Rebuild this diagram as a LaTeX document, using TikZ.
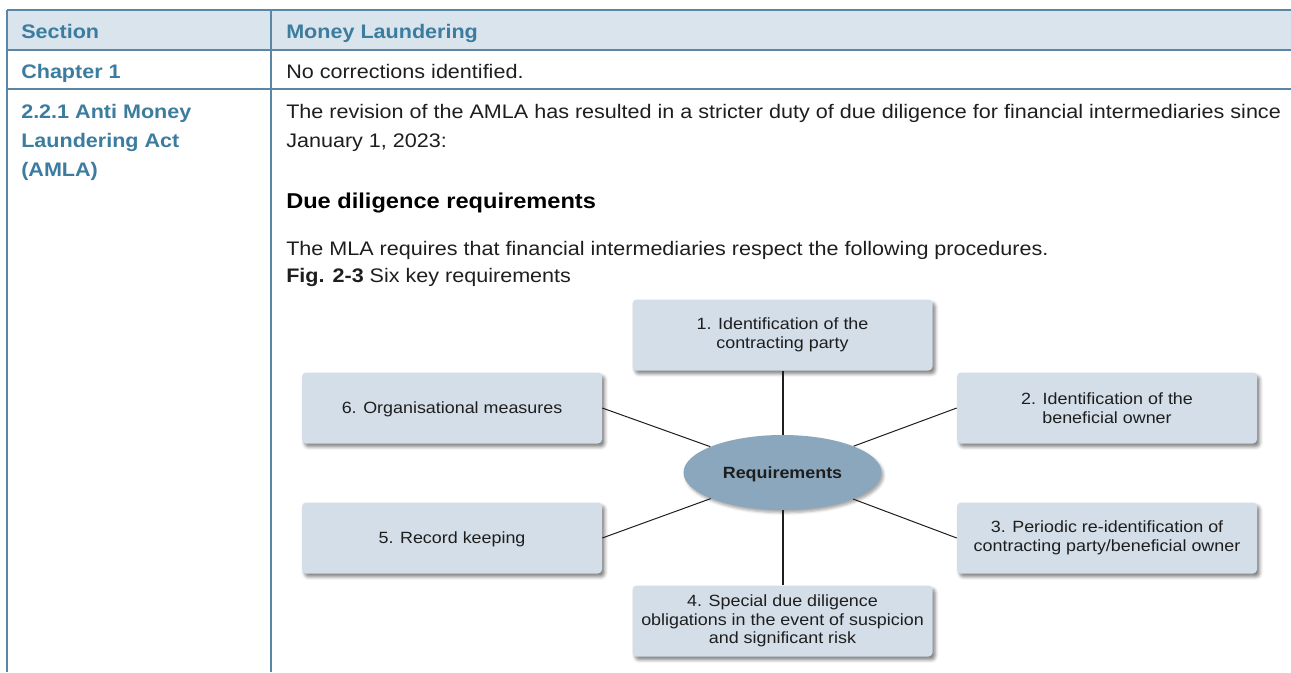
\documentclass[tikz,border=0pt]{standalone}
\usepackage{fontspec}
\setmainfont{Liberation Sans}[FakeStretch=1.1]
\usetikzlibrary{shapes.geometric,shadows.blur}

\definecolor{rulecol}{HTML}{5A87A6}
\definecolor{headfill}{HTML}{DAE4EC}
\definecolor{sectxt}{HTML}{3C7C9F}
\definecolor{boxfill}{HTML}{D4DEE8}
\definecolor{hubfill}{HTML}{8AA7BE}
\definecolor{ink}{HTML}{1E1E1E}

\tikzset{
  tablerule/.style={draw=rulecol, line width=1.1pt},
  cell/.style={anchor=base west, inner sep=0pt, text=ink,
    font=\fontsize{14.7}{17}\selectfont},
  sectioncell/.style={cell, text=sectxt,
    font=\fontsize{14.7}{17}\selectfont\bfseries},
  subhead/.style={cell, text=black,
    font=\fontsize{16.1}{19}\selectfont\bfseries},
  reqbox/.style={rectangle, rounded corners=3pt, fill=boxfill,
    minimum width=225pt, minimum height=53.25pt, inner sep=2pt,
    align=center, text=ink, font=\fontsize{12.2}{14}\selectfont,
    blur shadow={shadow xshift=2pt, shadow yshift=-2.5pt,
      shadow blur radius=2.5pt, shadow opacity=50}},
  oneline/.style={text depth=0pt},
  hub/.style={ellipse, fill=hubfill, minimum width=148.5pt,
    minimum height=56.25pt, inner sep=0pt, text=ink, text depth=0pt,
    font=\fontsize{12.2}{14}\selectfont\bfseries,
    blur shadow={shadow xshift=1.5pt, shadow yshift=-2pt,
      shadow blur radius=2pt, shadow opacity=35}},
  spoke/.style={draw=ink, line width=1.5pt},
  diagspoke/.style={draw=ink, line width=0.75pt},
}

\begin{document}
\begin{tikzpicture}[x=0.75pt, y=-0.75pt]
  \useasboundingbox (0,0) rectangle (1291,672);

  % table frame
  \fill[headfill] (7,10) rectangle (1291,50);
  \draw[tablerule] (7,10) -- (1291,10);
  \draw[tablerule] (7,50) -- (1291,50);
  \draw[tablerule] (7,89) -- (1291,89);
  \draw[tablerule] (7,10) -- (7,672);
  \draw[tablerule] (271,10) -- (271,672);

  % header row
  \node[sectioncell] (hsec) at (21,38) {Section};
  \node[sectioncell] (htopic) at (286,38) {Money Laundering};

  % first row
  \node[sectioncell] (ch1) at (21,78) {Chapter 1};
  \node[cell] (ch1txt) at (286,78) {No corrections identified.};

  % second row, left column
  \node[sectioncell] (amla1) at (21,118) {2.2.1 Anti Money};
  \node[sectioncell] (amla2) at (21,147) {Laundering Act};
  \node[sectioncell] (amla3) at (21,176) {(AMLA)};

  % second row, right column
  \node[cell] (rev1) at (286,118) {The revision of the AMLA has resulted in a stricter duty of due diligence for financial intermediaries since};
  \node[cell] (rev2) at (286,147) {January 1, 2023:};
  \node[subhead] (ddr) at (286,208) {Due diligence requirements};
  \node[cell] (mla) at (286,255) {The MLA requires that financial intermediaries respect the following procedures.};
  \node[cell] (fig) at (286,282) {\textbf{Fig. 2-3} Six key requirements};

  % diagram
  \node[hub] (req) at (782.5,472.5) {Requirements};
  \node[reqbox] (r1) at (782.5,335) {1. Identification of the\\contracting party};
  \node[reqbox] (r2) at (1107,408) {2. Identification of the\\beneficial owner};
  \node[reqbox] (r3) at (1107,538) {3. Periodic re-identification of\\contracting party/beneficial owner};
  \node[reqbox] (r4) at (782.5,621) {4. Special due diligence\\obligations in the event of suspicion\\and significant risk};
  \node[reqbox, oneline] (r5) at (452,538) {5. Record keeping};
  \node[reqbox, oneline] (r6) at (452,408) {6. Organisational measures};

  \draw[spoke] (r1) -- (req);
  \draw[spoke] (r4) -- (req);
  \draw[diagspoke] (r2.west) -- (req);
  \draw[diagspoke] (r3.west) -- (req);
  \draw[diagspoke] (r5.east) -- (req);
  \draw[diagspoke] (r6.east) -- (req);
\end{tikzpicture}
\end{document}
